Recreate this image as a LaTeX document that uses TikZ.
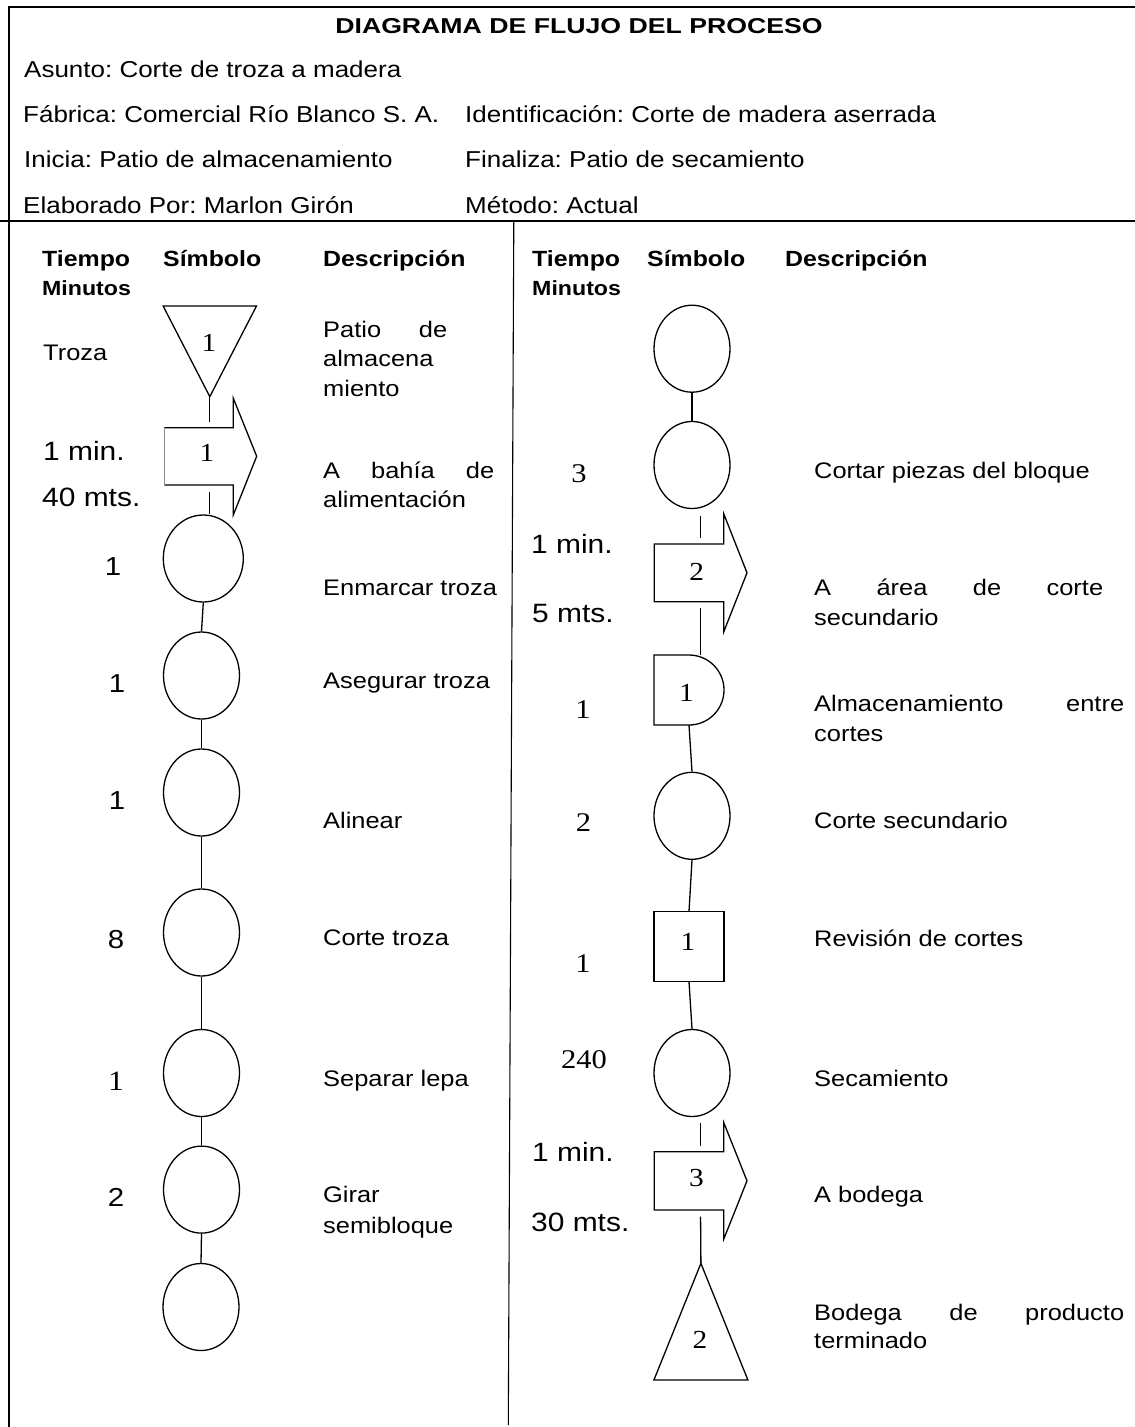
\documentclass[tikz,border=0pt]{standalone}
\usepackage{fontspec}
\setmainfont{Liberation Sans}[FakeStretch=1.13]
\newfontfamily\numfont{Liberation Serif}[FakeStretch=1.13]
\newfontfamily\headfont{Liberation Sans}[FakeStretch=1.24]
\usetikzlibrary{shapes.geometric}

\begin{document}
\frenchspacing
\begin{tikzpicture}[x=1pt,y=-1pt,
  frame/.style={line width=2.2pt},
  divider/.style={line width=1.1pt},
  sym/.style={draw,line width=1.3pt},
  slot/.style={inner sep=0pt,outer sep=0pt},
  op/.style={ellipse,draw,line width=1.3pt,minimum width=76pt,minimum height=87pt,inner sep=0pt},
  conn/.style={line width=1.3pt},
  titlef/.style={anchor=base,inner sep=0pt,font=\headfont\bfseries\fontsize{21.5}{26}\selectfont},
  hdr/.style={anchor=base west,inner sep=0pt,font=\fontsize{23}{28}\selectfont},
  colh/.style={anchor=base west,inner sep=0pt,font=\bfseries\fontsize{22}{26}\selectfont},
  subh/.style={anchor=base west,inner sep=0pt,font=\bfseries\fontsize{20.5}{24}\selectfont},
  txt/.style={anchor=base west,inner sep=0pt,font=\fontsize{22.5}{29.5}\selectfont},
  big/.style={anchor=base west,inner sep=0pt,font=\fontsize{26.5}{30}\selectfont},
  bignum/.style={anchor=base,inner sep=0pt,font=\fontsize{26}{30}\selectfont},
  sernum/.style={anchor=base,inner sep=0pt,font=\numfont\fontsize{27}{30}\selectfont},
  symnum/.style={anchor=base,inner sep=0pt,font=\numfont\fontsize{26}{30}\selectfont},
]
\useasboundingbox (0,0) rectangle (1135,1427);

% ---------- frame ----------
\draw[frame] (1135,7) -- (9,7) -- (9,221.2);
\draw[frame] (0,221.2) -- (1135,221.2);
\draw[frame] (9.3,221.2) -- (9.3,1427);
\draw[divider] (513.8,221.2) -- (508.3,1425);

% ---------- heading block ----------
\node[titlef] (title) at (579,33.5) {DIAGRAMA DE FLUJO DEL PROCESO};
\node[hdr] (asunto) at (24,77) {Asunto: Corte de troza a madera};
\node[hdr] (fabrica) at (23,122.3) {Fábrica: Comercial Río Blanco S. A.};
\node[hdr] (ident) at (465,122.3) {Identificación: Corte de madera aserrada};
\node[hdr] (inicia) at (24,167.7) {Inicia: Patio de almacenamiento};
\node[hdr] (finaliza) at (465,167.7) {Finaliza: Patio de secamiento};
\node[hdr] (elab) at (23,213) {Elaborado Por: Marlon Girón};
\node[hdr] (metodo) at (465,213) {Método: Actual};

% ---------- column headings ----------
\node[colh] (tiempoL) at (42,266) {Tiempo};
\node[colh] (simboloL) at (163,266) {Símbolo};
\node[colh] (descL) at (323,266) {Descripción};
\node[subh] (minutosL) at (42,295) {Minutos};
\node[colh] (tiempoR) at (532,266) {Tiempo};
\node[colh] (simboloR) at (647,266) {Símbolo};
\node[colh] (descR) at (785,266) {Descripción};
\node[subh] (minutosR) at (532,295) {Minutos};

% ---------- left column: symbols ----------
\node[slot,minimum width=93.4pt,minimum height=90.7pt] (t1) at (209.8,351.3) {};
\draw[sym] (t1.north west) -- (t1.north east) -- (t1.south) -- cycle;
\node[symnum] (t1n) at (209,351.7) {1};

\node[slot,minimum width=69pt,minimum height=57.3pt] (a1) at (198.8,456.3) {};
\draw[sym] (a1.north west) -- (a1.north east) -- ([yshift=29.4pt]a1.north east)
  -- ([xshift=23.4pt]a1.east) -- ([yshift=-30pt]a1.south east) -- (a1.south east)
  -- (a1.south west);
\draw[line width=0.7pt,black!45] (a1.south west) -- (a1.north west);
\node[symnum] (a1n) at (207,461.7) {1};

\node[op,minimum width=80pt] (c1) at (203.3,558.5) {};
\node[op] (c2) at (201.5,675.5) {};
\node[op] (c3) at (201.5,792.5) {};
\node[op] (c4) at (201.5,932.5) {};
\node[op] (c5) at (201.5,1073) {};
\node[op] (c6) at (201.5,1189.6) {};
\node[op] (c7) at (201,1307) {};

% ---------- left column: connectors ----------
\draw[conn,shorten >=6pt] (t1.south) -- (t1.south |- a1.north);
\draw[conn,shorten <=6.7pt] (a1.south -| t1.south) -- (c1.north -| t1.south);
\draw[conn] (c1.south) -- (c2.north);
\draw[conn] (c2.south) -- (c3.north);
\draw[conn] (c3.south) -- (c4.north);
\draw[conn] (c4.south) -- (c5.north);
\draw[conn] (c5.south) -- (c6.north);
\draw[conn] (c6.south) -- (c7.north);

% ---------- left column: times ----------
\node[txt] (troza) at (43,360.5) {Troza};
\node[big] (minA) at (43,460) {1 min.};
\node[big] (mtsA) at (42,506.7) {40 mts.};
\node[bignum] (tC) at (113,575) {1};
\node[bignum] (tD) at (117,692.7) {1};
\node[bignum] (tE) at (117,809.3) {1};
\node[bignum] (tF) at (116,948.3) {8};
\node[sernum,font=\numfont\fontsize{28}{30}\selectfont] (tG) at (116,1090) {1};
\node[bignum] (tH) at (116,1206.7) {2};

% ---------- left column: descriptions ----------
\node[txt] (dA1) at (323,337.3) {\hbox to 124pt{Patio\hfill de}};
\node[txt] (dA2) at (323,366.7) {almacena};
\node[txt] (dA3) at (323,396.5) {miento};
\node[txt] (dB1) at (323,478.3) {\hbox to 171pt{A\hfill bahía\hfill de}};
\node[txt] (dB2) at (323,507.7) {alimentación};
\node[txt] (dC) at (323,595) {Enmarcar troza};
\node[txt] (dD) at (323,688.3) {Asegurar troza};
\node[txt] (dE) at (323,828.3) {Alinear};
\node[txt] (dF) at (323,945) {Corte troza};
\node[txt] (dG) at (323,1086) {Separar lepa};
\node[txt] (dH1) at (323,1202.3) {Girar};
\node[txt] (dH2) at (323,1233.3) {semibloque};

% ---------- right column: symbols ----------
\coordinate (rx) at (700.5,0);
\node[op] (e1) at (692,348.7) {};
\node[op] (e2) at (692,465) {};

\node[slot,minimum width=69.6pt,minimum height=57.7pt] (a2) at (689,572.8) {};
\draw[sym] (a2.south west) -- (a2.north west) -- (a2.north east) -- ([yshift=30pt]a2.north east)
  -- ([xshift=23.2pt]a2.east) -- ([yshift=-30pt]a2.south east) -- (a2.south east) -- cycle;
\node[symnum] (a2n) at (696.6,580) {2};

\node[slot,minimum width=70pt,minimum height=70pt] (d1) at (689,690) {};
\draw[sym] (d1.south west) -- (d1.north west) -- (d1.north)
  arc[start angle=90,end angle=-90,radius=35pt] -- cycle;
\node[symnum] (d1n) at (686.5,701.7) {1};

\node[op] (e3) at (692,815.8) {};

\node[slot,sym,minimum size=70pt] (sq) at (689,946.7) {};
\node[symnum] (sqn) at (688,950.7) {1};

\node[op] (e4) at (692,1073) {};

\node[slot,minimum width=69.6pt,minimum height=58.3pt] (a3) at (689,1180.8) {};
\draw[sym] (a3.south west) -- (a3.north west) -- (a3.north east) -- ([yshift=29pt]a3.north east)
  -- ([xshift=23.2pt]a3.east) -- ([yshift=-29pt]a3.south east) -- (a3.south east) -- cycle;
\node[symnum] (a3n) at (696.5,1186) {3};

\node[slot,minimum width=94pt,minimum height=116.7pt] (t2) at (700.9,1321.7) {};
\draw[sym] (t2.south west) -- (t2.south east) -- (t2.north) -- cycle;
\node[symnum] (t2n) at (700,1348.3) {2};

% ---------- right column: connectors ----------
\draw[conn] (e1.south) -- (e2.north);
\draw[conn,shorten <=7pt,shorten >=6pt] (e2.south -| rx) -- (a2.north -| rx);
\draw[conn,shorten <=6.3pt] (a2.south -| rx) -- (d1.north -| rx);
\draw[conn] (d1.south) -- (e3.north);
\draw[conn] (e3.south) -- (sq.north);
\draw[conn] (sq.south) -- (e4.north);
\draw[conn,shorten <=6pt,shorten >=6pt] (e4.south -| rx) -- (a3.north -| rx);
\draw[conn,shorten <=6.7pt] (a3.south -| rx) -- (t2.north);

% ---------- right column: times ----------
\node[sernum] (t3) at (579,482.3) {3};
\node[big] (minB) at (531,553.3) {1 min.};
\node[big] (mtsB) at (532,622.3) {5 mts.};
\node[sernum] (tDel) at (583,718.3) {1};
\node[sernum] (tCs) at (583.5,831.7) {2};
\node[sernum] (tRev) at (583,972.7) {1};
\node[sernum] (tSec) at (584,1068.3) {240};
\node[big] (minC) at (532,1161.7) {1 min.};
\node[big] (mtsC) at (531,1231.7) {30 mts.};

% ---------- right column: descriptions ----------
\node[txt] (rA) at (814,478.3) {Cortar piezas del bloque};
\node[txt] (rB1) at (814,595) {\hbox to 289pt{A\hfill área\hfill de\hfill corte}};
\node[txt] (rB2) at (814,625) {secundario};
\node[txt] (rC1) at (814,711.7) {\hbox to 310pt{Almacenamiento\hfill entre}};
\node[txt] (rC2) at (814,741.7) {cortes};
\node[txt] (rD) at (814,828.3) {Corte secundario};
\node[txt] (rE) at (814,946) {Revisión de cortes};
\node[txt] (rF) at (814,1086) {Secamiento};
\node[txt] (rG) at (814,1202.3) {A bodega};
\node[txt] (rH1) at (814,1320) {\hbox to 310pt{Bodega\hfill de\hfill producto}};
\node[txt] (rH2) at (814,1348.3) {terminado};
\end{tikzpicture}
\end{document}
